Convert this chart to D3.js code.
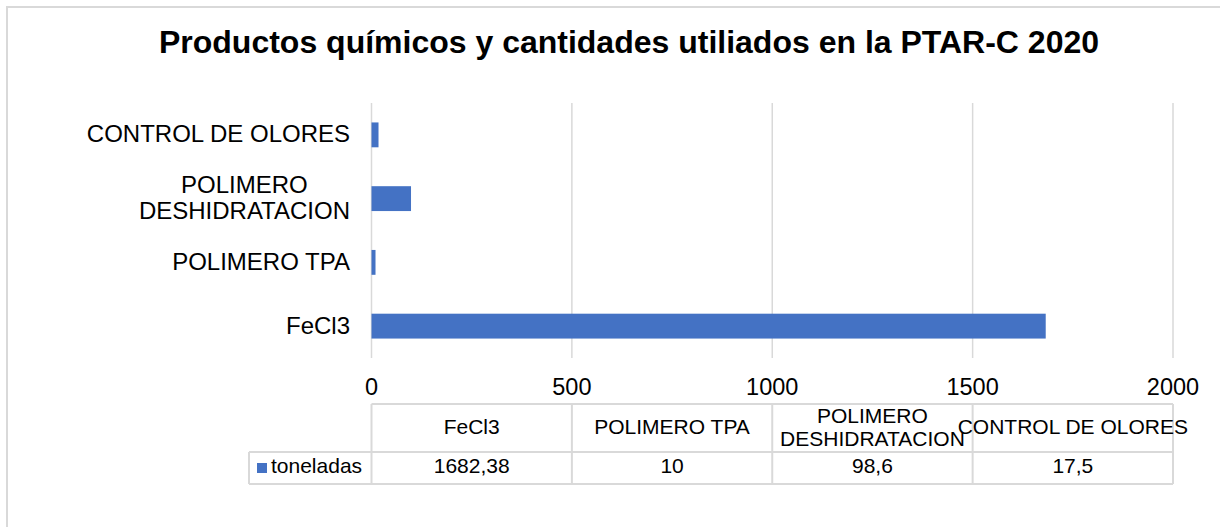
<!DOCTYPE html>
<html>
<head>
<meta charset="utf-8">
<script src="https://cdn.jsdelivr.net/npm/d3@7"></script>
<style>
  html, body { margin: 0; padding: 0; background: #fff; }
  svg { display: block; font-family: "Liberation Sans", Arial, sans-serif; }
</style>
</head>
<body>
<svg id="chart" width="1220" height="527"></svg>
<script>
// Chemical products used at the plant in 2020 (tonnes)
const categories = ["FeCl3", "POLIMERO TPA", "POLIMERO\nDESHIDRATACION", "CONTROL DE OLORES"];
const toneladas = [1682.38, 10, 98.6, 17.5];
const valueLabels = ["1682,38", "10", "98,6", "17,5"];
const seriesName = "toneladas";
const xTicks = [0, 500, 1000, 1500, 2000];
const title = "Productos químicos y cantidades utiliados en la PTAR-C 2020";

const svg = d3.select("#chart");
const barColor = "#4472c4";
const lineColor = "#d9d9d9";

// Chart frame
svg.append("path")
  .attr("d", "M7,527 V7 H1220")
  .attr("fill", "none")
  .attr("stroke", lineColor)
  .attr("stroke-width", 2);

// Title
svg.append("text")
  .attr("x", 629).attr("y", 53)
  .attr("text-anchor", "middle")
  .attr("font-size", 32).attr("font-weight", "bold")
  .attr("fill", "#000")
  .text(title);

const plotTop = 103, plotBottom = 358;
const x = d3.scaleLinear().domain([0, 2000]).range([371.5, 1173]);

// Bottom-to-top category order
const y = d3.scaleBand()
  .domain(categories.slice().reverse())
  .range([plotTop, plotBottom])
  .paddingInner(0.61)
  .paddingOuter(0.305);

// Vertical gridlines
svg.append("g").selectAll("line")
  .data(xTicks)
  .join("line")
  .attr("x1", d => x(d)).attr("x2", d => x(d))
  .attr("y1", plotTop).attr("y2", plotBottom)
  .attr("stroke", lineColor)
  .attr("stroke-width", 1.5);

// Tick labels
svg.append("g").selectAll("text")
  .data(xTicks)
  .join("text")
  .attr("x", d => x(d)).attr("y", 395)
  .attr("text-anchor", "middle")
  .attr("font-size", 23.5)
  .attr("fill", "#000")
  .text(d => d);

// Bars
const rows = categories.map((c, i) => ({ cat: c, value: toneladas[i], label: valueLabels[i] }));
svg.append("g").selectAll("rect")
  .data(rows)
  .join("rect")
  .attr("x", x(0))
  .attr("y", d => y(d.cat))
  .attr("width", d => x(d.value) - x(0))
  .attr("height", y.bandwidth())
  .attr("fill", barColor);

// Category labels (multi-line labels centred on each other, block right-aligned)
const catG = svg.append("g");
rows.forEach(d => {
  const lines = d.cat.split("\n");
  const cy = y(d.cat) + y.bandwidth() / 2;
  const lh = 26;
  const t = catG.append("text")
    .attr("font-size", 24)
    .attr("fill", "#000")
    .attr("text-anchor", "middle");
  lines.forEach((ln, i) => {
    t.append("tspan")
      .attr("x", 0)
      .attr("y", cy + 7.5 - (lines.length - 1) * lh / 2 + i * lh)
      .text(ln);
  });
  const bb = t.node().getBBox();
  t.attr("transform", `translate(${350 - (bb.x + bb.width)},0)`);
});

// Data table beneath the axis
const tTop = 404, tMid = 452, tBot = 484, legendLeft = 249;
const cols = categories.map((c, i) => ({ cat: c, label: valueLabels[i], x0: x(i * 500), x1: x((i + 1) * 500) }));
const tg = svg.append("g").attr("stroke", lineColor).attr("stroke-width", 2);
tg.append("line").attr("x1", x(0)).attr("x2", x(2000)).attr("y1", tTop).attr("y2", tTop);
tg.append("line").attr("x1", legendLeft).attr("x2", x(2000)).attr("y1", tMid).attr("y2", tMid);
tg.append("line").attr("x1", legendLeft).attr("x2", x(2000)).attr("y1", tBot).attr("y2", tBot);
tg.append("line").attr("x1", legendLeft).attr("x2", legendLeft).attr("y1", tMid).attr("y2", tBot);
tg.selectAll("line.v")
  .data(xTicks)
  .join("line")
  .attr("class", "v")
  .attr("x1", d => x(d)).attr("x2", d => x(d))
  .attr("y1", tTop).attr("y2", tBot);

// Header cells
cols.forEach(c => {
  const lines = c.cat.split("\n");
  const cx = (c.x0 + c.x1) / 2;
  const t = svg.append("text")
    .attr("font-size", 21)
    .attr("fill", "#000")
    .attr("text-anchor", "middle");
  const lh = 23;
  lines.forEach((ln, i) => {
    t.append("tspan")
      .attr("x", cx)
      .attr("y", 434 - (lines.length - 1) * lh / 2 + i * lh)
      .text(ln);
  });
  // value cell
  svg.append("text")
    .attr("x", cx).attr("y", 473)
    .attr("text-anchor", "middle")
    .attr("font-size", 21)
    .attr("fill", "#000")
    .text(c.label);
});

// Legend key in the table
svg.append("rect")
  .attr("x", 257).attr("y", 463)
  .attr("width", 10).attr("height", 10)
  .attr("fill", barColor);
svg.append("text")
  .attr("x", 271).attr("y", 473)
  .attr("font-size", 21)
  .attr("fill", "#000")
  .text(seriesName);
</script>
</body>
</html>
